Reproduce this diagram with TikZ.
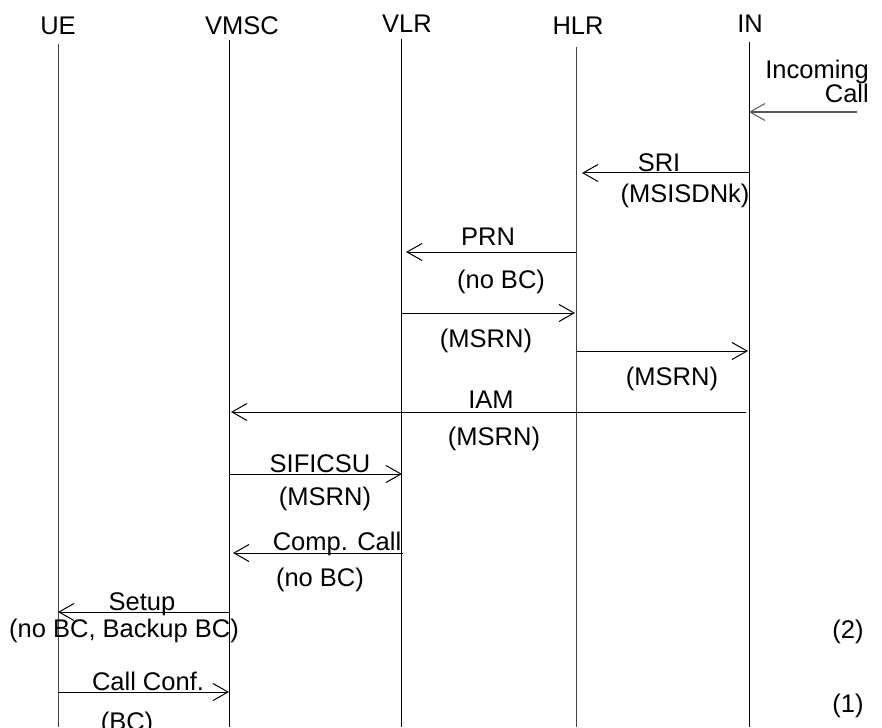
\documentclass[tikz,border=0pt]{standalone}
\usepackage{fontspec}
\setmainfont{Liberation Sans}
\usetikzlibrary{arrows.meta}
\begin{document}
\begin{tikzpicture}[x=1pt,y=-1pt,
  lbl/.style={font=\fontsize{25.5}{30}\selectfont, inner sep=0pt, anchor=base},
  life/.style={line width=1pt},
  msg/.style={line width=1pt, -{Straight Barb[length=15pt,width=17pt,line width=1pt]}}
]
\useasboundingbox (0,0) rectangle (882,727);
% headers
\node[lbl] (ue) at (58,35) {UE};
\node[lbl] (vmsc) at (242,35) {VMSC};
\node[lbl] (vlr) at (407,33) {VLR};
\node[lbl] (hlr) at (578,35) {HLR};
\node[lbl] (in) at (750,33) {IN};
% lifelines
\coordinate (ueT) at (58,44);   \coordinate (ueB) at (58,727);
\coordinate (vmT) at (229,40);  \coordinate (vmB) at (229,727);
\coordinate (vlT) at (401,39);  \coordinate (vlB) at (401,727);
\coordinate (hlT) at (576,47);  \coordinate (hlB) at (576,727);
\coordinate (inT) at (749,42);  \coordinate (inB) at (749,727);
\draw[life, black!75] (ueT) -- (ueB);
\draw[life] (vmT) -- (vmB);
\draw[life] (vlT) -- (vlB);
\draw[life, black!75] (hlT) -- (hlB);
\draw[life] (inT) -- (inB);
% message endpoints
\coordinate (ic1) at (857,112); \coordinate (ic2) at (749,112);
\coordinate (sr1) at (749,173); \coordinate (sr2) at (582,173);
\coordinate (pr1) at (576,252); \coordinate (pr2) at (406,252);
\coordinate (ma1) at (402,313); \coordinate (ma2) at (575,313);
\coordinate (mb1) at (577,351); \coordinate (mb2) at (748,351);
\coordinate (ia1) at (746,412); \coordinate (ia2) at (231,412);
\coordinate (si1) at (230,474); \coordinate (si2) at (402,474);
\coordinate (cc1) at (403,553); \coordinate (cc2) at (233,553);
\coordinate (se1) at (229,612); \coordinate (se2) at (58,612);
\coordinate (cf1) at (58,692);  \coordinate (cf2) at (229,692);
% messages
\draw[msg, line width=1.4pt, black!65] (ic1) -- (ic2);
\draw[msg] (sr1) -- (sr2);
\draw[msg] (pr1) -- (pr2);
\draw[msg] (ma1) -- (ma2);
\draw[msg] (mb1) -- (mb2);
\draw[msg] (ia1) -- (ia2);
\draw[msg] (si1) -- (si2);
\draw[msg] (cc1) -- (cc2);
\draw[msg] (se1) -- (se2);
\draw[msg] (cf1) -- (cf2);
% labels
\node[lbl, anchor=base east] (inc1) at (869,79) {Incoming};
\node[lbl, anchor=base east] (inc2) at (869,103) {Call};
\node[lbl] (sri) at (659,172) {SRI};
\node[lbl] (sriP) at (685,203) {(MSISDNk)};
\node[lbl] (prn) at (488,245) {PRN};
\node[lbl] (prnP) at (501,288) {(no BC)};
\node[lbl] (msrnA) at (486,347) {(MSRN)};
\node[lbl] (msrnB) at (672,385) {(MSRN)};
\node[lbl] (iam) at (491,408) {IAM};
\node[lbl] (iamP) at (494,445) {(MSRN)};
\node[lbl] (sif) at (320,472) {SIFICSU};
\node[lbl] (sifP) at (325,505) {(MSRN)};
\node[lbl] (cmp) at (337,550) {Comp. Call};
\node[lbl] (cmpP) at (320,586) {(no BC)};
\node[lbl] (setup) at (142,610) {Setup};
\node[lbl] (setupP) at (124,637) {(no BC, Backup BC)};
\node[lbl] (conf) at (148,690) {Call Conf.};
\node[lbl] (confP) at (127,730) {(BC)};
\node[lbl] (n2) at (848,638) {(2)};
\node[lbl] (n1) at (848,712) {(1)};
\end{tikzpicture}
\end{document}
